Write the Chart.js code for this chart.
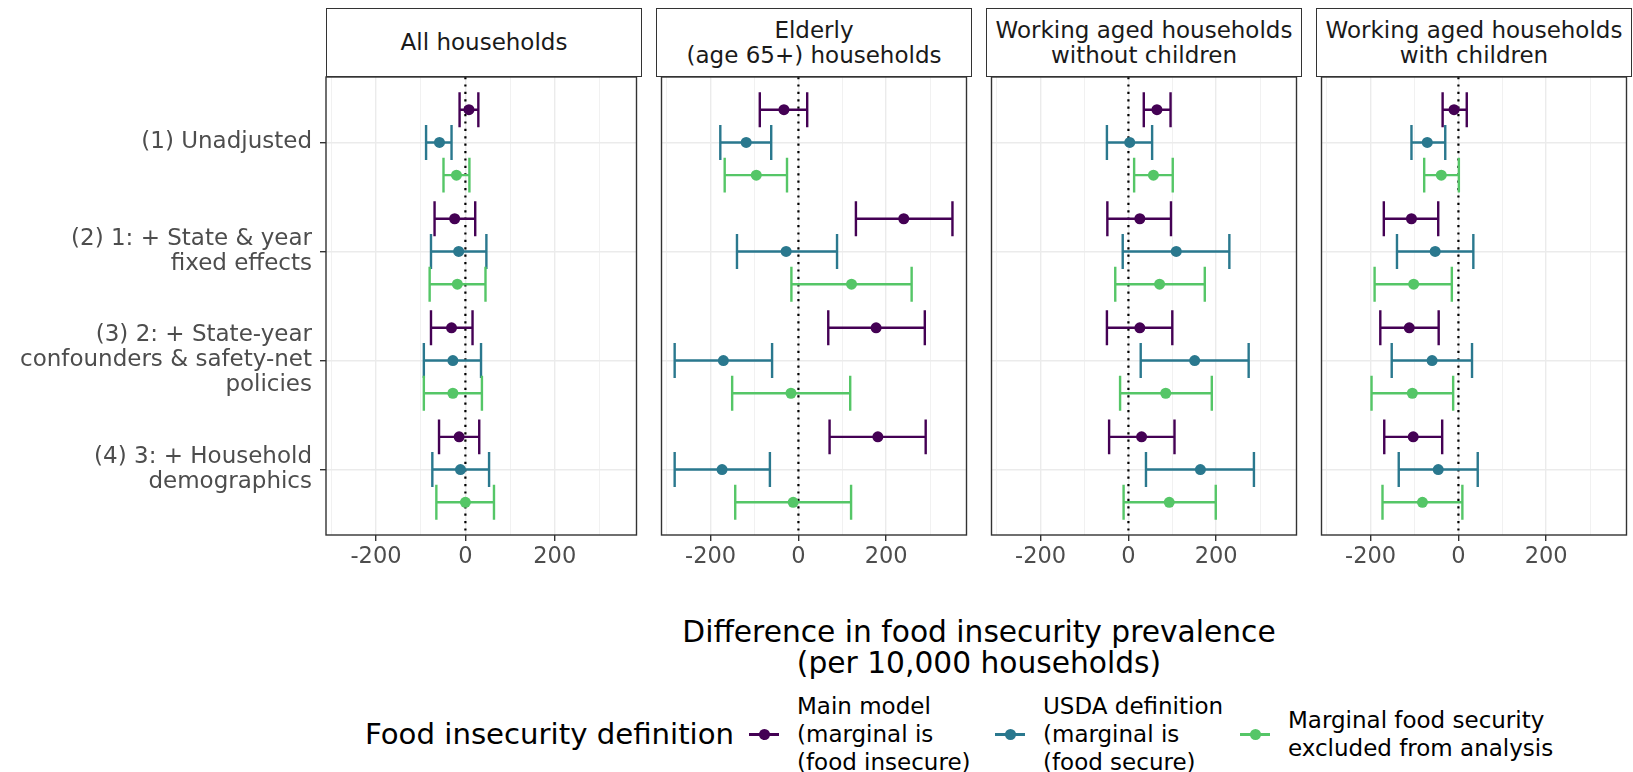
<!DOCTYPE html>
<html>
<head>
<meta charset="utf-8">
<script src="https://cdn.jsdelivr.net/npm/chart.js@4.4.1/dist/chart.umd.min.js"></script>
<style>
  body { margin: 0; background: #fff; font-family: "DejaVu Sans", sans-serif; }
  #wrap { position: relative; width: 1633px; height: 772px; overflow: hidden; }
  canvas { position: absolute; top: 0; }
  .strip { position: absolute; top: 8px; height: 69px; box-sizing: border-box; border: 1.4px solid #333;
    display: flex; align-items: center; justify-content: center; text-align: center;
    font-size: 23px; line-height: 25px; color: #1a1a1a; white-space: pre-line; background: #fff; }
  .xtitle { position: absolute; left: 326px; width: 1306px; top: 616px; text-align: center;
    font-size: 29.7px; line-height: 31px; color: #000; white-space: pre-line; }
  .leg { position: absolute; transform: translateY(-50%); white-space: pre-line; color: #000; }
  .leg-title { font-size: 29.2px; line-height: 34px; }
  .leg-text { font-size: 23px; line-height: 28px; }
  .key { position: absolute; width: 30px; height: 30px; transform: translateY(-50%); }
  .key .ln { position: absolute; left: 0; right: 0; top: 14px; height: 2.5px; }
  .key .pt { position: absolute; left: 9.5px; top: 9.5px; width: 11px; height: 11px; border-radius: 50%; }
</style>
</head>
<body>
<div id="wrap"></div>
<script>
// categories (y) and panels (facets)
const CATEGORIES = [
  "(1) Unadjusted",
  "(2) 1: + State & year\nfixed effects",
  "(3) 2: + State-year\nconfounders & safety-net\npolicies",
  "(4) 3: + Household\ndemographics"
];
const PANELS = [
  "All households",
  "Elderly\n(age 65+) households",
  "Working aged households\nwithout children",
  "Working aged households\nwith children"
];
const SERIES = [
  "Main model\n(marginal is\n(food insecure)",
  "USDA definition\n(marginal is\n(food secure)",
  "Marginal food security\nexcluded from analysis"
];
const X_TICKS = [-200, 0, 200];
const X_MINOR = [-300, -100, 100, 300];

// estimates per panel (rows) and category (columns)
const mainEst = [[8, -24, -31, -14], [-33, 240, 177, 181], [65, 26, 26, 30], [-10, -107, -112, -103]];
const mainLo  = [[-13, -69, -77, -59], [-88, 131, 68, 71], [35, -48, -49, -44], [-36, -170, -178, -169]];
const mainHi  = [[29, 22, 16, 31], [20, 351, 288, 290], [96, 97, 100, 105], [19, -46, -45, -37]];

const usdaEst = [[-58, -15, -28, -11], [-119, -28, -171, -174], [3, 109, 151, 164], [-71, -53, -60, -46]];
const usdaLo  = [[-88, -77, -93, -74], [-178, -140, -282, -282], [-49, -13, 28, 40], [-107, -140, -152, -136]];
const usdaHi  = [[-31, 47, 35, 53], [-62, 88, -60, -65], [54, 230, 274, 286], [-30, 34, 31, 44]];

const exclEst = [[-20, -18, -28, 0], [-96, 121, -17, -12], [57, 71, 85, 93], [-39, -102, -105, -82]];
const exclLo  = [[-49, -80, -93, -65], [-168, -16, -151, -144], [13, -30, -19, -11], [-78, -191, -198, -173]];
const exclHi  = [[9, 45, 37, 64], [-26, 258, 118, 120], [101, 174, 190, 199], [1, -15, -12, 9]];

const COLORS = ["#440154", "#2A788E", "#55C667"];
const FONT = "DejaVu Sans";

const est = [mainEst, usdaEst, exclEst];
const lo = [mainLo, usdaLo, exclLo];
const hi = [mainHi, usdaHi, exclHi];

const DODGE = [-0.3, 0, 0.3];
const CAP = 0.16;
const PANEL_LEFT = 326, PANEL_W = 316, PANEL_GAP = 14;
const PLOT_TOP = 77, PLOT_BOTTOM = 535, CANVAS_H = 600;

const errorBars = {
  id: 'errorBars',
  beforeDatasetsDraw(chart) {
    const { ctx, chartArea: a, scales: { x, y } } = chart;
    ctx.save();
    // dotted zero reference line
    const x0 = x.getPixelForValue(0);
    ctx.strokeStyle = '#000';
    ctx.lineWidth = 2.2;
    ctx.setLineDash([2.2, 5.2]);
    ctx.beginPath();
    ctx.moveTo(x0, a.top);
    ctx.lineTo(x0, a.bottom);
    ctx.stroke();
    ctx.setLineDash([]);
    chart.data.datasets.forEach(ds => {
      ctx.strokeStyle = ds.backgroundColor;
      ctx.lineWidth = 2.4;
      ds.data.forEach(d => {
        const py = y.getPixelForValue(d.y);
        const pl = x.getPixelForValue(d.lo), ph = x.getPixelForValue(d.hi);
        const t = y.getPixelForValue(d.y - CAP), b = y.getPixelForValue(d.y + CAP);
        ctx.beginPath();
        ctx.moveTo(pl, py); ctx.lineTo(ph, py);
        ctx.moveTo(pl, t); ctx.lineTo(pl, b);
        ctx.moveTo(ph, t); ctx.lineTo(ph, b);
        ctx.stroke();
      });
    });
    ctx.restore();
  },
  afterDraw(chart) {
    const { ctx, chartArea: a } = chart;
    ctx.save();
    ctx.strokeStyle = '#333';
    ctx.lineWidth = 1.4;
    ctx.strokeRect(a.left, a.top, a.right - a.left, a.bottom - a.top);
    ctx.restore();
  }
};

const wrap = document.getElementById('wrap');

PANELS.forEach((title, p) => {
  const first = p === 0;
  const panelLeft = PANEL_LEFT + p * (PANEL_W + PANEL_GAP);

  const strip = document.createElement('div');
  strip.className = 'strip';
  strip.style.left = panelLeft + 'px';
  strip.style.width = PANEL_W + 'px';
  strip.textContent = title;
  wrap.appendChild(strip);

  const canvas = document.createElement('canvas');
  const cLeft = first ? 0 : panelLeft;
  const cWidth = first ? PANEL_LEFT + PANEL_W : PANEL_W;
  canvas.width = cWidth;
  canvas.height = CANVAS_H;
  canvas.style.left = cLeft + 'px';
  wrap.appendChild(canvas);

  const datasets = SERIES.map((name, s) => ({
    label: name,
    backgroundColor: COLORS[s],
    borderWidth: 0,
    pointRadius: 5.5,
    data: CATEGORIES.map((_, c) => ({
      x: est[s][p][c], y: c + 1 + DODGE[s], lo: lo[s][p][c], hi: hi[s][p][c]
    }))
  }));

  new Chart(canvas, {
    type: 'scatter',
    data: { datasets },
    plugins: [errorBars],
    options: {
      responsive: false,
      animation: false,
      layout: { padding: { top: PLOT_TOP, left: 0, right: 0, bottom: 0 } },
      plugins: { legend: { display: false }, tooltip: { enabled: false } },
      scales: {
        x: {
          type: 'linear', min: -312, max: 383,
          afterBuildTicks: s => { s.ticks = X_TICKS.concat(X_MINOR).sort((a, b) => a - b).map(v => ({ value: v })); },
          afterFit: s => { s.height = CANVAS_H - PLOT_BOTTOM; },
          border: { display: false },
          grid: {
            color: '#EBEBEB',
            lineWidth: c => X_TICKS.includes(c.tick && c.tick.value) ? 1.4 : 0.7,
            tickColor: c => X_TICKS.includes(c.tick && c.tick.value) ? '#333' : 'rgba(0,0,0,0)',
            tickWidth: 1.4,
            tickLength: 6
          },
          ticks: {
            autoSkip: false, maxRotation: 0, padding: 3,
            color: '#4D4D4D', font: { family: FONT, size: 22.5 },
            callback: v => X_TICKS.includes(v) ? String(v) : ''
          }
        },
        y: {
          type: 'linear', min: 0.4, max: 4.6, reverse: true,
          afterBuildTicks: s => { s.ticks = CATEGORIES.map((_, i) => ({ value: i + 1 })); },
          afterFit: s => { s.width = first ? PANEL_LEFT : 0; },
          border: { display: false },
          grid: { color: '#EBEBEB', lineWidth: 1.4, drawTicks: first, tickColor: '#333', tickWidth: 1.4, tickLength: 6 },
          ticks: {
            display: first, autoSkip: false, padding: 8,
            color: '#4D4D4D', font: { family: FONT, size: 23, lineHeight: 25 / 23 },
            callback: v => CATEGORIES[Math.round(v) - 1].split('\n')
          }
        }
      }
    }
  });
});

// axis title
const xt = document.createElement('div');
xt.className = 'xtitle';
xt.textContent = "Difference in food insecurity prevalence\n(per 10,000 households)";
wrap.appendChild(xt);

// legend
const LEG_Y = 734;
const legTitle = document.createElement('div');
legTitle.className = 'leg leg-title';
legTitle.style.left = '365px';
legTitle.style.top = LEG_Y + 'px';
legTitle.textContent = "Food insecurity definition";
wrap.appendChild(legTitle);

const KEY_X = [749, 995, 1240];
SERIES.forEach((name, s) => {
  const key = document.createElement('div');
  key.className = 'key';
  key.style.left = KEY_X[s] + 'px';
  key.style.top = LEG_Y + 'px';
  key.innerHTML = '<div class="ln"></div><div class="pt"></div>';
  key.querySelector('.ln').style.background = COLORS[s];
  key.querySelector('.pt').style.background = COLORS[s];
  wrap.appendChild(key);

  const txt = document.createElement('div');
  txt.className = 'leg leg-text';
  txt.style.left = (KEY_X[s] + 48) + 'px';
  txt.style.top = LEG_Y + 'px';
  txt.textContent = name;
  wrap.appendChild(txt);
});
</script>
</body>
</html>
